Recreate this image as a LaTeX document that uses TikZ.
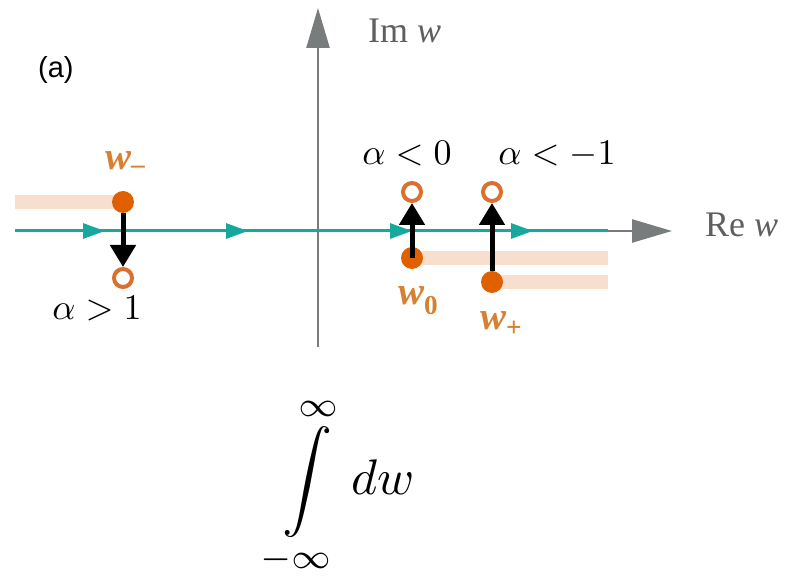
\documentclass[tikz,border=0pt]{standalone}
\usepackage[no-math]{fontspec}
\usepackage{graphicx}
\setmainfont{Liberation Serif}
\newfontfamily\labsans{Liberation Sans}
\usetikzlibrary{arrows.meta,decorations.markings}
\definecolor{dotor}{RGB}{224,96,0}
\definecolor{ringor}{RGB}{218,112,48}
\definecolor{labor}{RGB}{214,128,48}
\definecolor{bandc}{RGB}{248,222,205}
\definecolor{tealc}{RGB}{22,168,158}
\definecolor{axisg}{RGB}{120,124,124}
\definecolor{textg}{RGB}{95,95,95}
\begin{document}
\begin{tikzpicture}[x=1pt,y=-1pt,
  dotfill/.style={circle,fill=dotor,inner sep=0pt,minimum size=22pt},
  ring/.style={circle,draw=ringor,line width=4pt,fill=white,inner sep=0pt,minimum size=18pt},
  band/.style={bandc,line width=14pt},
  jump/.style={line width=5pt,-{Triangle[length=22pt,width=25pt]}},
  axis/.style={axisg,line width=2.5pt,-{Triangle[length=40pt,width=23pt]}},
  contour/.style={tealc,line width=3pt},
  wlab/.style={text=labor,font=\fontsize{39}{44}\selectfont\bfseries\itshape,inner sep=0pt,anchor=base west},
  alab/.style={inner sep=0pt,anchor=base},
  axlab/.style={text=textg,font=\fontsize{36}{43}\selectfont,inner sep=0pt,anchor=base west},
  tealtip/.style={decoration={markings,
      mark=at position 90pt with {\arrow{Triangle[length=22pt,width=15pt]}},
      mark=at position 233pt with {\arrow{Triangle[length=22pt,width=15pt]}},
      mark=at position 397pt with {\arrow{Triangle[length=22pt,width=15pt]}},
      mark=at position 518pt with {\arrow{Triangle[length=22pt,width=15pt]}}},
    postaction={decorate}}
]
\useasboundingbox (0,0) rectangle (785,577);
% coordinates
\coordinate (xs) at (15,231);
\coordinate (xe) at (608,231);
\coordinate (xtip) at (672,231);
\coordinate (yb) at (318,347);
\coordinate (yt) at (318,8);
\coordinate (bm) at (15,202);
\coordinate (b0) at (608,258);
\coordinate (bp) at (608,282);
% bands
\draw[band] (bm) -- (123,202);
\draw[band] (412,258) -- (b0);
\draw[band] (492,282) -- (bp);
% axes
\draw[axis] (yb) -- (yt);
\draw[axis] (xs) -- (xtip);
\draw[contour,tealtip] (xs) -- (xe);
% poles and rings
\node[ring] (wmo) at (123,278) {};
\node[ring] (w0o) at (412,192) {};
\node[ring] (wpo) at (492,192) {};
\node[dotfill] (wm) at (123,202) {};
\node[dotfill] (wp) at (492,282) {};
\node[dotfill] (w0) at (412,258) {};
\draw[jump] (wm) -- (wmo);
\draw[jump] (w0.center) -- (w0o);
\draw[jump] (wp) -- (wpo);
% labels
\node[wlab] (lwm) at (105,170) {w\textsubscript{\upshape –}};
\node[wlab] (lw0) at (398,305) {w\textsubscript{\upshape 0}};
\node[wlab] (lwp) at (480,330) {w\textsubscript{\upshape +}};
\node[alab] (am) at (97,320) {\scalebox{3.6}{$\alpha>1$}};
\node[alab] (a0) at (407,165) {\scalebox{3.6}{$\alpha<0$}};
\node[alab] (ap) at (557,165) {\scalebox{3.6}{$\alpha<-1$}};
\node[axlab] (im) at (368,43) {Im \textit{w}};
\node[axlab] (re) at (705,237) {Re \textit{w}};
\node[font=\labsans\fontsize{29}{34}\selectfont,inner sep=0pt,anchor=base west] (pa) at (38,78) {(a)};
\node[inner sep=0pt] (intg) at (343,487) {\scalebox{5.0}{$\displaystyle\int\limits_{-\infty}^{\infty} dw$}};
\end{tikzpicture}
\end{document}
